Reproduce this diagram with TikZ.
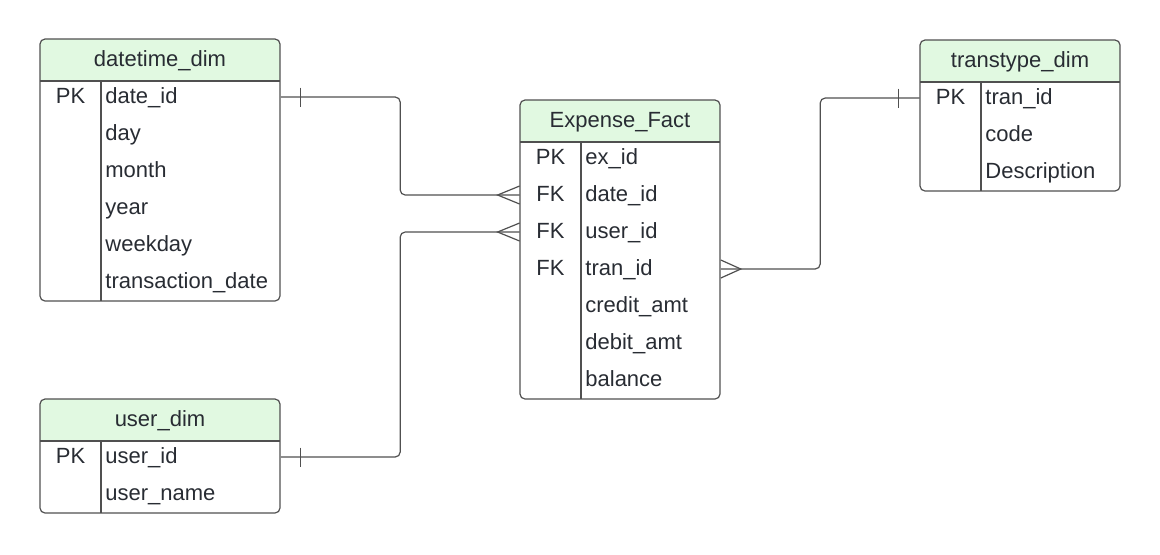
\documentclass[tikz,border=0pt]{standalone}
\usepackage{fontspec}
\setmainfont{Liberation Sans}
\usetikzlibrary{calc}
\definecolor{headgreen}{RGB}{225,249,225}
\definecolor{erline}{RGB}{80,80,80}
\definecolor{ertext}{RGB}{40,44,51}
\tikzset{
  er-line/.style={draw=erline, line width=0.6pt},
  er-text/.style={
    text=ertext,
    font=\fontsize{11}{13}\selectfont,
    text height=8.5pt,
    text depth=2.5pt
  },
  er-title/.style={er-text, inner sep=0pt},
  er-key/.style={er-text, inner sep=0pt, minimum width=30.5pt},
  er-field/.style={er-text, anchor=west, inner xsep=2pt, inner ysep=0pt, text width=#1, align=left},
  rel/.style={er-line, rounded corners=2.5pt}
}
% table frame: name, left, top, right, divider, rows, title
\newcommand{\ertable}[7]{
  \begin{scope}
    \clip[rounded corners=2.5pt] (#2,#3) rectangle (#4,{#3+40+37*#6});
    \fill[headgreen] (#2,#3) rectangle (#4,{#3+42});
  \end{scope}
  \draw[er-line, rounded corners=2.5pt] (#2,#3) rectangle (#4,{#3+40+37*#6});
  \draw[er-line] (#2,{#3+42}) -- (#4,{#3+42});
  \draw[er-line] (#5,{#3+42}) -- (#5,{#3+40+37*#6});
  \node[er-title] (#1) at ({(#2+#4)/2},{#3+21}) {#7};
}
\newcommand{\onebar}[2]{\draw[er-line] ([xshift=#2,yshift=4.75pt]#1) -- ([xshift=#2,yshift=-4.75pt]#1);}
\newcommand{\crowfoot}[2]{\draw[er-line] ([yshift=4.5pt]#1) -- ([xshift=#2]#1) -- ([yshift=-4.5pt]#1);}

\begin{document}
\begin{tikzpicture}[x=0.5pt, y=-0.5pt]
  \useasboundingbox (0,0) rectangle (1160,554);

  % datetime_dim
  \ertable{dt}{40}{39}{280}{101}{6}{datetime\_dim}
  \node[er-key] (dt-k1) at (70.5,97) {PK};
  \foreach \f [count=\i] in {date\_id,day,month,year,weekday,transaction\_date}
    \node[er-field=85.5pt] (dt-f\i) at (101,{97+37*(\i-1)}) {\f};

  % user_dim
  \ertable{us}{40}{399}{280}{101}{2}{user\_dim}
  \node[er-key] (us-k1) at (70.5,457) {PK};
  \foreach \f [count=\i] in {user\_id,user\_name}
    \node[er-field=85.5pt] (us-f\i) at (101,{457+37*(\i-1)}) {\f};

  % Expense_Fact
  \ertable{ef}{520}{100}{720}{581}{7}{Expense\_Fact}
  \foreach \k [count=\i] in {PK,FK,FK,FK}
    \node[er-key] (ef-k\i) at (550.5,{158+37*(\i-1)}) {\k};
  \foreach \f [count=\i] in {ex\_id,date\_id,user\_id,tran\_id,credit\_amt,debit\_amt,balance}
    \node[er-field=65.5pt] (ef-f\i) at (581,{158+37*(\i-1)}) {\f};

  % transtype_dim
  \ertable{tt}{920}{40}{1120}{981}{3}{transtype\_dim}
  \node[er-key] (tt-k1) at (950.5,98) {PK};
  \foreach \f [count=\i] in {tran\_id,code,Description}
    \node[er-field=65.5pt] (tt-f\i) at (981,{98+37*(\i-1)}) {\f};

  % Relations
  \draw[rel] (dt-f1.east) -| ($(dt-f1.east)!.5!(ef-k2.west)$) |- (ef-k2.west);
  \draw[rel] (us-f1.east) -| ($(us-f1.east)!.5!(ef-k3.west)$) |- (ef-k3.west);
  \draw[rel] (ef-f4.east) -| ($(ef-f4.east)!.5!(tt-k1.west)$) |- (tt-k1.west);
  % one side
  \onebar{dt-f1.east}{10pt}
  \onebar{us-f1.east}{10pt}
  \onebar{tt-k1.west}{-10.5pt}
  % many side
  \crowfoot{ef-k2.west}{-11pt}
  \crowfoot{ef-k3.west}{-11pt}
  \crowfoot{ef-f4.east}{10pt}
\end{tikzpicture}
\end{document}
